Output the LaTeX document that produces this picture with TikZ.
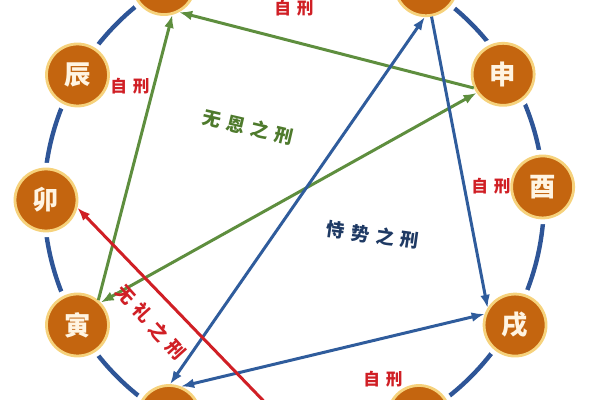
\documentclass[tikz,border=0pt]{standalone}
\usepackage{fontspec}
\usepackage{tikz}
\usetikzlibrary{arrows.meta}
\newfontfamily\cjk{Noto Sans CJK SC}
\definecolor{branchfill}{HTML}{C4650F}
\definecolor{glow}{HTML}{F6D27C}
\definecolor{cream}{HTML}{FFF4E2}
\definecolor{ringblue}{HTML}{2E5597}
\definecolor{enGreen}{HTML}{5E8E3E}
\definecolor{enText}{HTML}{4E7A2C}
\definecolor{shiBlue}{HTML}{2F5C9C}
\definecolor{shiText}{HTML}{1F3A64}
\definecolor{liRed}{HTML}{D01F25}
\newcommand{\cgap}{\hspace{0.35em}}

\begin{document}
\begin{tikzpicture}[
    branch/.style={circle, minimum size=1.24cm, inner sep=0pt, fill=branchfill, draw=glow,
        line width=1.6pt, preaction={draw=white, line width=7pt}, text=cream,
        font=\cjk\bfseries\fontsize{15}{15}\selectfont},
    selfxing/.style={text=liRed, font=\cjk\bfseries\fontsize{9.5}{10}\selectfont},
    xinglabel/.style={font=\cjk\bfseries\fontsize{10.5}{11}\selectfont},
    tip/.style={-{Latex[length=2.6mm]}},
    both/.style={{Latex[length=2.6mm]}-{Latex[length=2.6mm]}},
]
    \useasboundingbox (0, 0) rectangle (12, 8);
    \coordinate (o) at (5.88, 4);
    \draw[ringblue, line width=2.5pt] (o) circle (5);
    \foreach \name/\ang/\rad/\txt in {mao/180/4.96/卯, chen/150/5/辰, si/121/5.05/巳, wu/90/5/午,
        wei/58.5/5.05/未, shen/31/4.88/申, you/3/4.98/酉, xu/-29.5/5.08/戌, hai/-60/5/亥,
        zi/-90/5/子, chou/-120/5/丑, yin/-150/5/寅}
        \node[branch] (\name) at ([shift={(\ang:\rad)}]o) {\txt};
    % self punishment
    \node[selfxing] (wuself) at (5.88, 7.84) {自\cgap 刑};
    \node[selfxing] (chenself) at (2.6, 6.28) {自\cgap 刑};
    \node[selfxing] (youself) at (9.82, 4.28) {自\cgap 刑};
    \node[selfxing] (haiself) at (7.66, 0.42) {自\cgap 刑};
    % 寅 巳 申
    \draw[enGreen, line width=1.7pt, tip] (yin.50) -- (si.-75);
    \draw[enGreen, line width=1.7pt, tip] (shen.205) -- (si.-62);
    \draw[enGreen, line width=1.7pt, both] (yin.44) -- (shen.215);
    \node[xinglabel, text=enText, rotate=-13] (enlabel) at (4.96, 5.46) {无\cgap 恩\cgap 之\cgap 刑};
    % 丑 未 戌
    \draw[shiBlue, line width=1.7pt, both] (chou.88) -- (wei.-92);
    \draw[shiBlue, line width=1.7pt, tip] (wei.-80) -- (xu.148);
    \draw[shiBlue, line width=1.7pt, both] (chou.68) -- (xu.160);
    \node[xinglabel, text=shiText, rotate=-8] (shilabel) at (7.46, 3.3) {恃\cgap 势\cgap 之\cgap 刑};
    % 子 卯
    \draw[liRed, line width=1.7pt, tip] (zi.112) -- (mao.-14);
    \node[xinglabel, text=liRed, rotate=-48] (lilabel) at (3.02, 1.56) {无\cgap 礼\cgap 之\cgap 刑};
\end{tikzpicture}
\end{document}
